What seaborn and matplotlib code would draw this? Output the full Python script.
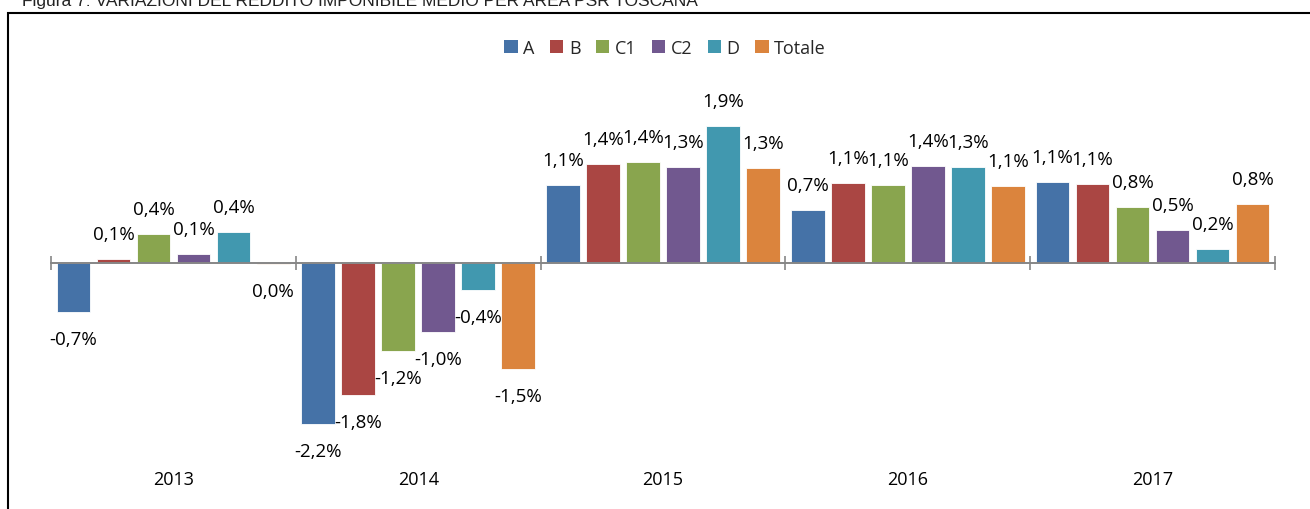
import matplotlib
matplotlib.use("Agg")
import matplotlib.pyplot as plt
import matplotlib.patches as mpatches
import matplotlib.transforms as mtransforms
import seaborn as sns
import pandas as pd

# ---- data ----
years = ["2013", "2014", "2015", "2016", "2017"]
areas = ["A", "B", "C1", "C2", "D", "Totale"]
val_A = [-0.68, -2.23, 1.08, 0.74, 1.12]
val_B = [0.06, -1.83, 1.37, 1.11, 1.10]
val_C1 = [0.40, -1.22, 1.40, 1.08, 0.78]
val_C2 = [0.12, -0.96, 1.33, 1.35, 0.46]
val_D = [0.43, -0.37, 1.90, 1.33, 0.19]
val_Tot = [-0.01, -1.47, 1.32, 1.07, 0.82]
colors = ["#4572A7", "#AA4643", "#89A54E", "#71588F", "#4198AF", "#DB843D"]
title = "Figura 7: VARIAZIONI DEL REDDITO IMPONIBILE MEDIO PER AREA PSR TOSCANA"

series = [val_A, val_B, val_C1, val_C2, val_D, val_Tot]
rows = []
for a, vals in zip(areas, series):
    for y, v in zip(years, vals):
        rows.append({"year": y, "area": a, "value": v})
df = pd.DataFrame(rows)

sns.set_theme(style="white")
plt.rcParams["font.family"] = ["Open Sans", "DejaVu Sans"]

W, H = 1310, 510
fig = plt.figure(figsize=(W / 100, H / 100), dpi=100)
# axes geometry in pixels
x0, x1 = 51, 1275
zero_px = 264
ppu = 72.0
ymax, ymin = 2.6, -2.6
top_px = zero_px - ymax * ppu
bot_px = zero_px - ymin * ppu
ax = fig.add_axes([x0 / W, 1 - bot_px / H, (x1 - x0) / W, (bot_px - top_px) / H])

sns.barplot(data=df, x="year", y="value", hue="area", order=years, hue_order=areas,
            palette=colors, width=0.98, gap=0.16, errorbar=None, ax=ax,
            edgecolor="white", linewidth=0.6, saturation=1, legend=False)

ax.set_ylim(ymin, ymax)
ax.set_xlim(-0.5, len(years) - 0.5)
for s in ["top", "right", "left"]:
    ax.spines[s].set_visible(False)
ax.spines["bottom"].set_position(("data", 0))
ax.spines["bottom"].set_color("#868686")
ax.spines["bottom"].set_linewidth(1.4)
ax.set_yticks([])
ax.set_xticks([i - 0.5 for i in range(len(years) + 1)])
ax.set_xticklabels([])
ax.tick_params(axis="x", direction="inout", length=10, width=1.2, color="#868686", bottom=True)
ax.set_xlabel("")
ax.set_ylabel("")

# category labels at bottom
trans = mtransforms.blended_transform_factory(ax.transData, ax.transAxes)
lab_y = -(480 - bot_px) / (bot_px - top_px)
for i, y in enumerate(years):
    ax.text(i, lab_y, y, transform=trans, ha="center", va="center", fontsize=13, color="black")

# value labels
def fmt(v):
    r = round(v, 1)
    if abs(r) < 0.05:
        r = 0.0
    return f"{r:.1f}%".replace(".", ",")

for cont in ax.containers:
    for bar in cont:
        h = bar.get_height()
        xc = bar.get_x() + bar.get_width() / 2
        off = 18 if h >= 0 else -19.5
        ax.annotate(fmt(h), (xc, h), xytext=(0, off), textcoords="offset points",
                    ha="center", va="center", fontsize=13.5, color="black",
                    annotation_clip=False)

# legend
handles = [mpatches.Patch(facecolor=c, edgecolor="none", label=a) for a, c in zip(areas, colors)]
fig.legend(handles=handles, loc="center", bbox_to_anchor=(665 / W, 1 - 49 / H), ncol=6,
           frameon=False, fontsize=13, handlelength=0.75, handleheight=0.75,
           handletextpad=0.3, columnspacing=0.85, borderaxespad=0)

# outer border and clipped title
fig.patches.append(mpatches.Rectangle((8 / W, -0.1), 1.2, (1 - 14 / H) + 0.1, fill=False,
                                      edgecolor="black", linewidth=1.5,
                                      transform=fig.transFigure, figure=fig))
fig.text(22 / W, 1 - 6 / H, title, family=["Liberation Sans", "DejaVu Sans"], fontsize=12.5,
         ha="left", va="baseline", color="#222222")

fig.savefig("out.png", dpi=100, facecolor="white")
